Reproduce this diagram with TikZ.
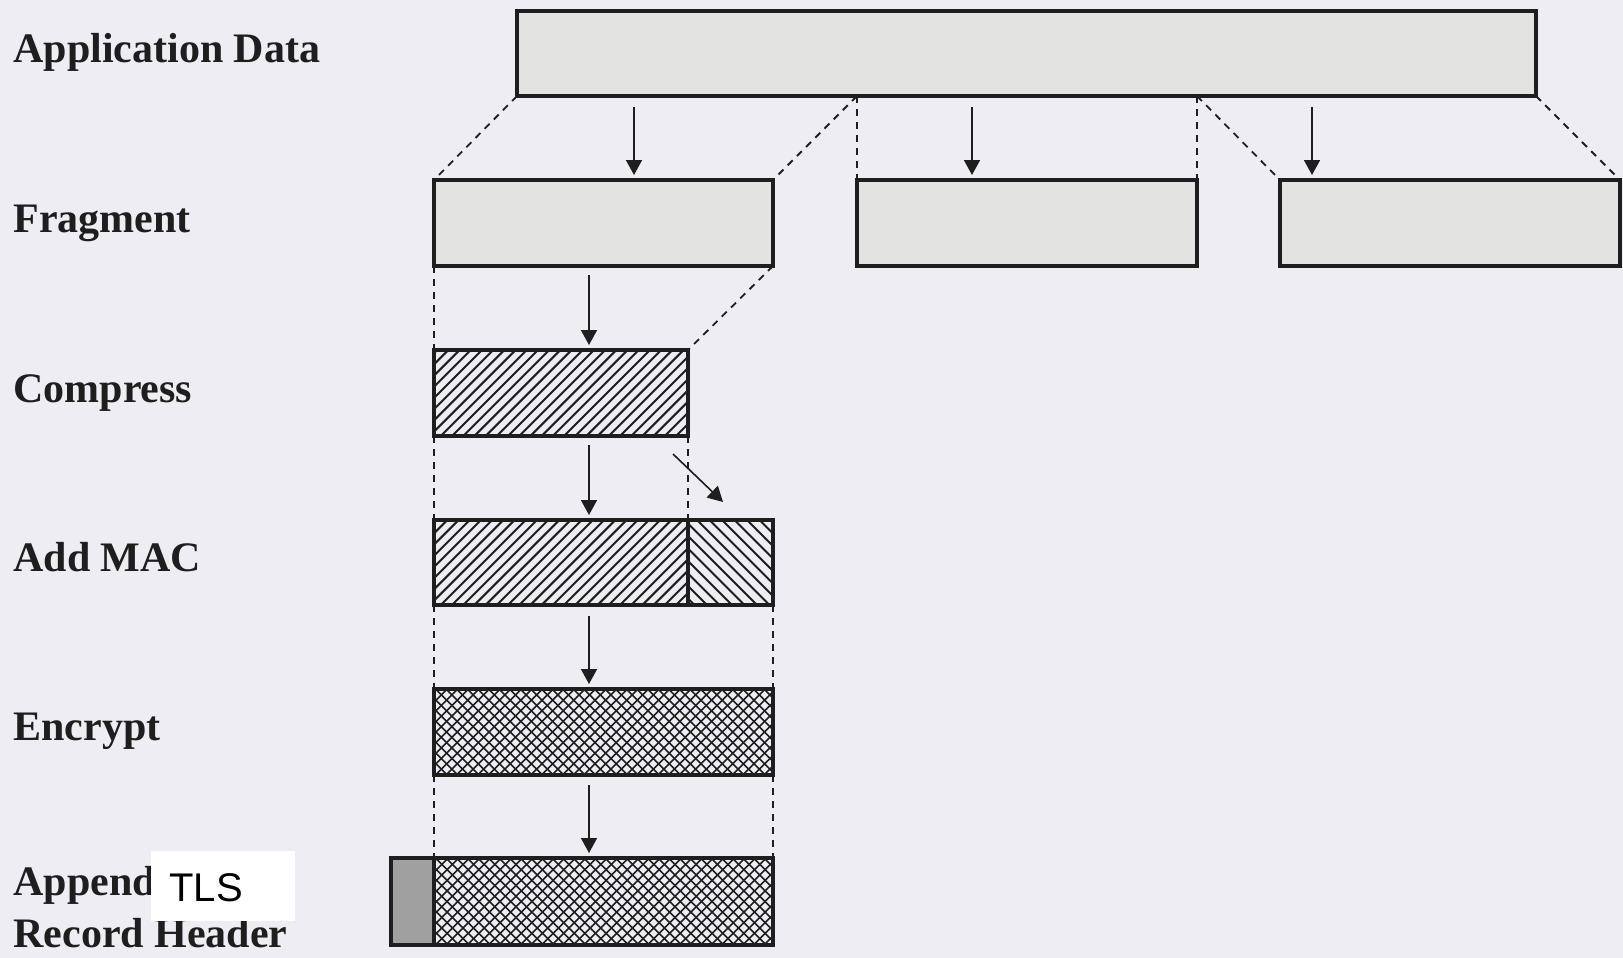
\documentclass[tikz,border=0pt]{standalone}
\usepackage{fontspec}
\setmainfont{Liberation Serif}
\newfontfamily\tlsfont{Liberation Sans}
\usetikzlibrary{fit,arrows.meta}
\definecolor{paper}{RGB}{239,237,244}
\definecolor{boxgray}{RGB}{227,227,225}
\definecolor{hdrgray}{RGB}{160,160,160}
\definecolor{ink}{RGB}{30,30,30}
\begin{document}
\begin{tikzpicture}[x=0.5pt,y=-0.5pt,
  box/.style={draw=ink, line width=1.7pt, inner sep=0pt, outer sep=0pt},
  plain/.style={box, fill=boxgray},
  hatchbox/.style={box},
  hl/.style={draw=ink, line width=1pt},
  xl/.style={draw=ink, line width=0.8pt},
  hdr/.style={box, fill=hdrgray},
  guide/.style={draw=ink, line width=0.9pt, dash pattern=on 3.5pt off 3pt},
  arr/.style={draw=ink, line width=0.8pt, -{Triangle[width=8pt,length=7.5pt]}},
  lbl/.style={anchor=base west, inner sep=0pt, font=\fontsize{21}{25}\selectfont\bfseries, text=ink}
]
\fill[paper] (0,0) rectangle (1623,958);
\useasboundingbox (0,0) rectangle (1623,958);

% hatching (drawn first, borders go over it)
\begin{scope}
  \clip (434,350) rectangle (688,436);
  \foreach \x in {340,351.2,...,700} \draw[hl] (\x,436) -- ++(86,-86);
\end{scope}
\begin{scope}
  \clip (434,520) rectangle (688,605);
  \foreach \x in {340,351.2,...,700} \draw[hl] (\x,605) -- ++(85,-85);
\end{scope}
\begin{scope}
  \clip (688,520) rectangle (773,605);
  \foreach \x in {597,609.5,...,780} \draw[hl] (\x,520) -- ++(85,85);
\end{scope}
\begin{scope}
  \clip (434,689) rectangle (773,775);
  \foreach \x in {340,350.6,...,780} {\draw[xl] (\x,775) -- ++(86,-86); \draw[xl] (\x,689) -- ++(86,86);}
\end{scope}
\begin{scope}
  \clip (434,858) rectangle (773,945);
  \foreach \x in {340,350.6,...,780} {\draw[xl] (\x,945) -- ++(87,-87); \draw[xl] (\x,858) -- ++(87,87);}
\end{scope}

% boxes
\node[plain, fit={(517,11) (1536,96)}] (app) {};
\node[plain, fit={(434,180) (773,266)}] (frag1) {};
\node[plain, fit={(857,180) (1197,266)}] (frag2) {};
\node[plain, fit={(1280,180) (1620,266)}] (frag3) {};
\node[hatchbox, fit={(434,350) (688,436)}] (comp) {};
\node[hatchbox, fit={(434,520) (688,605)}] (mac1) {};
\node[hatchbox, fit={(688,520) (773,605)}] (mac2) {};
\node[hatchbox, fit={(434,689) (773,775)}] (enc) {};
\node[hdr, fit={(391,858) (434,945)}] (hdrbox) {};
\node[hatchbox, fit={(434,858) (773,945)}] (rec) {};

% dashed guides
\coordinate (s1) at (frag2.north west |- app.south);
\coordinate (s2) at (frag2.north east |- app.south);
\draw[guide] (app.south west) -- (frag1.north west);
\draw[guide] (s1) -- (frag1.north east);
\draw[guide] (s1) -- (frag2.north west);
\draw[guide] (s2) -- (frag2.north east);
\draw[guide] (s2) -- (frag3.north west);
\draw[guide] (app.south east) -- (frag3.north east);
\draw[guide] (frag1.south west) -- (comp.north west);
\draw[guide] (frag1.south east) -- (comp.north east);
\draw[guide] (comp.south west) -- (mac1.north west);
\draw[guide] (comp.south east) -- (mac1.north east);
\draw[guide] (mac1.south west) -- (enc.north west);
\draw[guide] (mac2.south east) -- (enc.north east);
\draw[guide] (enc.south west) -- (rec.north west);
\draw[guide] (enc.south east) -- (rec.north east);

% arrows
\coordinate (t1) at (634,107);
\coordinate (t2) at (972,107);
\coordinate (t3) at (1312,107);
\draw[arr] (t1) -- ([yshift=2.5pt]t1 |- frag1.north);
\draw[arr] (t2) -- ([yshift=2.5pt]t2 |- frag2.north);
\draw[arr] (t3) -- ([yshift=2.5pt]t3 |- frag3.north);
\coordinate (v1) at (589,275);
\coordinate (v2) at (589,445);
\coordinate (v3) at (589,616);
\coordinate (v4) at (589,785);
\draw[arr] (v1) -- ([yshift=2.5pt]v1 |- comp.north);
\draw[arr] (v2) -- ([yshift=2.5pt]v2 |- mac1.north);
\draw[arr] (v3) -- ([yshift=2.5pt]v3 |- enc.north);
\draw[arr] (v4) -- ([yshift=2.5pt]v4 |- rec.north);
\coordinate (d1) at (673,454);
\coordinate (d2) at (723,502);
\draw[arr] (d1) -- (d2);

% labels
\node[lbl] (lapp) at (13,62) {Application Data};
\node[lbl] (lfrag) at (13,232) {Fragment};
\node[lbl] (lcomp) at (13,402) {Compress};
\node[lbl] (lmac) at (13,571) {Add MAC};
\node[lbl] (lenc) at (13,740) {Encrypt};
\node[lbl] (lapp1) at (13,895) {Append};
\node[lbl] (lapp2) at (13,947) {Record Header};
\fill[white] (151,851) rectangle (295,921);
\node[anchor=base west, inner sep=0pt, font=\tlsfont\fontsize{20}{24}\selectfont] (tls) at (169,901) {TLS};
\end{tikzpicture}
\end{document}
